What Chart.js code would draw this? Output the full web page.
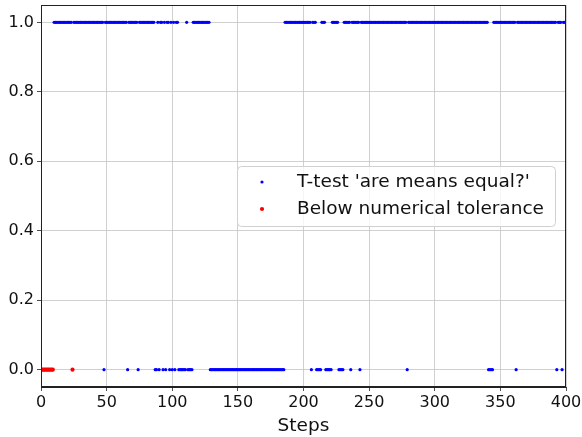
<!DOCTYPE html>
<html>
<head>
<meta charset="utf-8">
<script src="https://cdn.jsdelivr.net/npm/chart.js@4"></script>
<style>
  html, body { margin: 0; padding: 0; background: #fff; }
  canvas { display: block; }
</style>
</head>
<body>
<canvas id="chart" width="582" height="437"></canvas>
<script>
// steps where the t-test said "means equal" (runs of consecutive steps)
const equalRuns = [[10, 23], [25, 47], [49, 65], [67, 73], [75, 86], [89, 89], [91, 92], [94, 94], [96, 97],
    [99, 99], [101, 101], [103, 104], [111, 111], [116, 128], [186, 205], [207, 209], [214, 216],
    [222, 226], [231, 235], [237, 242], [244, 278], [280, 340], [345, 361], [363, 392], [394, 396], [398, 399]];

// steps where the t-test said "not equal"
const notEqualSteps = [48, 66, 74, 87, 88, 90, 93, 95, 98, 100, 102, 105, 106, 107, 108, 109, 110,
    112, 113, 114, 115, 206, 210, 211, 212, 213, 217, 218, 219, 220, 221, 227, 228, 229, 230,
    236, 243, 279, 341, 342, 343, 344, 362, 393, 397];
const notEqualRuns = [[129, 185]];

// steps below numerical tolerance
const toleranceSteps = [0, 1, 2, 3, 4, 5, 6, 7, 8, 9, 24];

const xTicks = [0, 50, 100, 150, 200, 250, 300, 350, 400];
const yTicks = [0, 0.2, 0.4, 0.6, 0.8, 1.0];

const labels = ["T-test 'are means equal?'", "Below numerical tolerance"];
const FONT = "'DejaVu Sans', sans-serif";

function expand(runs) {
    const out = [];
    runs.forEach(([a, b]) => {
        for (let s = a; s <= b; s++) out.push(s);
    });
    return out;
}

const ttestPoints = [
    ...expand(equalRuns).map(s => ({x: s, y: 1})),
    ...notEqualSteps.concat(expand(notEqualRuns)).map(s => ({x: s, y: 0}))
];
const tolPoints = toleranceSteps.map(s => ({x: s, y: 0}));

// frame round the plot + legend box inside the axes
const framePlugin = {
    id: 'frame',
    afterDraw(chart) {
        const {ctx, chartArea: a} = chart;
        ctx.save();
        ctx.strokeStyle = '#222';
        ctx.lineWidth = 1;
        ctx.strokeRect(a.left + 0.5, a.top + 0.5, a.right - a.left - 1, a.bottom - a.top - 1);

        const bx = a.right - 329, by = a.top + 161, bw = 318, bh = 60;
        ctx.beginPath();
        ctx.roundRect(bx + 0.5, by + 0.5, bw, bh, 4);
        ctx.fillStyle = 'rgba(255,255,255,0.8)';
        ctx.fill();
        ctx.strokeStyle = '#d0d0d0';
        ctx.stroke();

        ctx.font = '18.5px ' + FONT;
        ctx.textBaseline = 'middle';
        ctx.textAlign = 'left';
        chart.data.datasets.forEach((ds, i) => {
            const y = by + 16 + i * 27;
            ctx.beginPath();
            ctx.arc(bx + 25, y, ds.pointRadius, 0, Math.PI * 2);
            ctx.fillStyle = ds.backgroundColor;
            ctx.fill();
            ctx.fillStyle = '#111';
            ctx.fillText(ds.label, bx + 60, y);
        });
        ctx.restore();
    }
};

new Chart(document.getElementById('chart'), {
    type: 'scatter',
    data: {
        datasets: [
            {
                label: labels[0],
                data: ttestPoints,
                backgroundColor: '#0000ff',
                pointRadius: 1.6,
                pointBorderWidth: 0,
                pointHoverRadius: 1.6
            },
            {
                label: labels[1],
                data: tolPoints,
                backgroundColor: '#ff0000',
                pointRadius: 2.1,
                pointBorderWidth: 0,
                pointHoverRadius: 2.1
            }
        ]
    },
    options: {
        responsive: false,
        animation: false,
        devicePixelRatio: 1,
        layout: {padding: {top: 5, right: 16, left: 0, bottom: 0}},
        plugins: {
            legend: {display: false},
            tooltip: {enabled: false}
        },
        scales: {
            x: {
                type: 'linear',
                min: 0,
                max: 400,
                afterBuildTicks: scale => { scale.ticks = xTicks.map(v => ({value: v})); },
                afterFit: scale => { scale.height = 50; scale.paddingLeft = 0; scale.paddingRight = 0; },
                grid: {color: '#c4c4c4', lineWidth: 0.8, tickLength: 4, tickColor: '#222'},
                border: {color: '#222'},
                ticks: {font: {family: FONT, size: 16}, color: '#111', padding: 2, maxRotation: 0},
                title: {display: true, text: 'Steps', font: {family: FONT, size: 18.5}, color: '#111', padding: {top: 0, bottom: 0}}
            },
            y: {
                min: -0.05,
                max: 1.05,
                afterBuildTicks: scale => { scale.ticks = yTicks.map(v => ({value: v})); },
                afterFit: scale => { scale.width = 41; scale.paddingTop = 0; scale.paddingBottom = 0; },
                grid: {color: '#c4c4c4', lineWidth: 0.8, tickLength: 4, tickColor: '#222'},
                border: {color: '#222'},
                ticks: {font: {family: FONT, size: 16}, color: '#111', padding: 3, callback: v => v.toFixed(1)}
            }
        }
    },
    plugins: [framePlugin]
});
</script>
</body>
</html>
